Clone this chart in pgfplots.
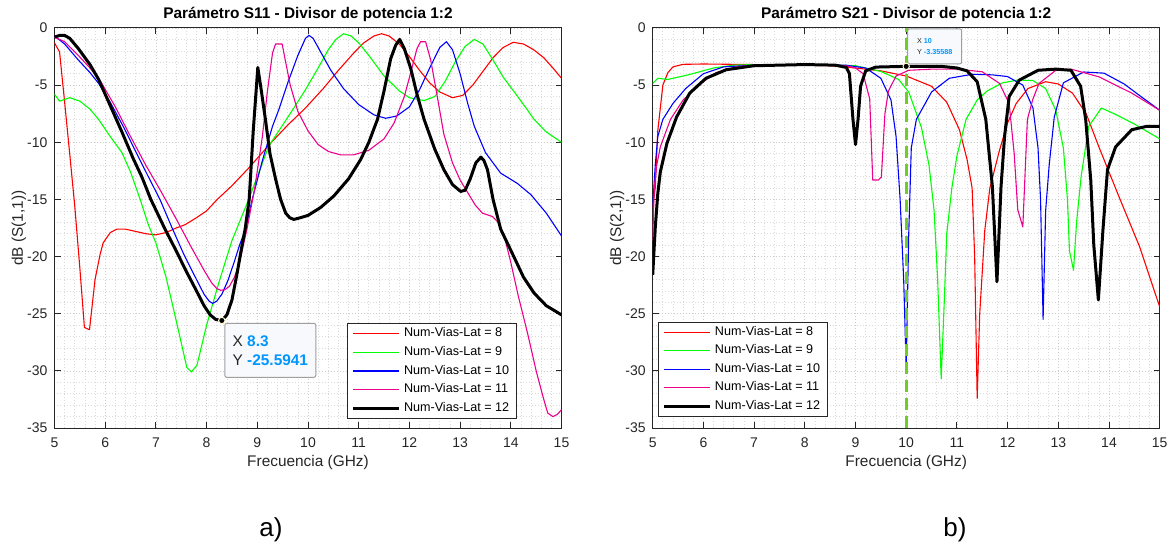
\documentclass[border=0pt]{standalone}
\usepackage{pgfplots}
\pgfplotsset{compat=1.18}
\usepackage{fontspec}
\setmainfont{Liberation Sans}
\definecolor{tipblue}{RGB}{0,150,255}
\definecolor{dashgreen}{RGB}{110,205,40}
\definecolor{axgray}{RGB}{38,38,38}
\definecolor{tipfill}{RGB}{248,249,253}
\definecolor{tipedge}{RGB}{255,250,215}

\pgfplotsset{
  every axis title shift=0pt,
  mstyle/.style={
    scale only axis, width=253.5pt, height=200pt,
    xmin=5, xmax=15, ymin=-35, ymax=0,
    xtick={5,6,...,15}, ytick={-35,-30,...,0},
    minor x tick num=4, minor y tick num=4,
    grid=both,
    major grid style={gray!40, line width=0.35pt, dash pattern=on 0.5pt off 1pt},
    minor grid style={gray!28, line width=0.35pt, dash pattern=on 0.5pt off 1pt},
    tick align=inside, major tick length=3pt, minor tick length=0pt,
    xtick pos=both, ytick pos=both,
    axis line style={axgray, line width=0.5pt},
    every tick/.style={axgray, line width=0.5pt},
    /pgf/number format/assume math mode=true,
    tick label style={font=\fontsize{7}{8}\selectfont, text=axgray},
    xticklabel style={yshift=-1.5pt},
    label style={font=\fontsize{7.7}{9}\selectfont, text=axgray},
    xlabel style={at={(axis description cs:0.5,-0.0868)}, anchor=center},
    ylabel style={at={(axis description cs:-0.070,0.5)}, anchor=center},
    title style={font=\bfseries\fontsize{7.7}{9}\selectfont, at={(axis description cs:0.5,1.0345)}, anchor=center},
    legend cell align=left,
    legend style={font=\fontsize{6.3}{7.5}\selectfont, draw=axgray, line width=0.5pt, fill=white,
      inner xsep=2pt, inner ysep=0.5pt, nodes={inner sep=1.6pt, text depth=0.15em}},
    legend image code/.code={\draw[#1] (0pt,0pt) -- (23pt,0pt);},
    every axis plot/.append style={line join=round},
  },
  c8/.style={red, line width=0.55pt},
  c9/.style={green, line width=0.55pt},
  c10/.style={blue, line width=0.55pt},
  c11/.style={magenta, line width=0.55pt},
  c12/.style={black, line width=1.5pt},
}

\begin{document}
\begin{tikzpicture}
\fill[white, use as bounding box] (0,0) rectangle (585.5pt,273pt);

% ---------- a) S11 ----------
\begin{axis}[mstyle, at={(27.25pt,59pt)}, anchor=south west,
  title={Parámetro S11 - Divisor de potencia 1:2},
  xlabel={Frecuencia (GHz)}, ylabel={dB (S(1,1))},
  legend style={at={(axis description cs:0.912,0.023)}, anchor=south east}]
\addplot[c8] coordinates {(5,-1.3)(5.1,-2.1)(5.2,-6.5)(5.3,-11)(5.4,-15.6)(5.5,-21)(5.59,-26.2)(5.69,-26.4)(5.75,-24)(5.8,-22)(5.9,-19.8)(5.96,-18.8)(6.1,-17.9)(6.23,-17.6)(6.4,-17.6)(6.6,-17.8)(6.8,-18.0)(6.99,-18.1)(7.2,-17.9)(7.4,-17.5)(7.58,-17.2)(7.8,-16.6)(8.0,-16)(8.21,-15)(8.5,-13.8)(8.8,-12.4)(9.0,-11.4)(9.3,-9.9)(9.6,-8.5)(9.95,-7)(10.3,-5.3)(10.6,-3.7)(10.9,-2.2)(11.1,-1.3)(11.3,-0.7)(11.45,-0.5)(11.6,-0.7)(11.8,-1.4)(12.0,-2.5)(12.2,-3.7)(12.4,-4.8)(12.6,-5.6)(12.85,-6.1)(13.05,-5.9)(13.25,-5)(13.45,-3.8)(13.65,-2.6)(13.85,-1.7)(14.05,-1.25)(14.25,-1.4)(14.45,-1.9)(14.65,-2.6)(14.85,-3.6)(15,-4.4)};
\addplot[c9] coordinates {(5,-5.8)(5.1,-6.4)(5.3,-6.1)(5.5,-6.4)(5.7,-7.1)(5.87,-8)(6.1,-9.5)(6.33,-10.9)(6.5,-12.6)(6.69,-15)(6.85,-17.2)(7.0,-18.8)(7.2,-21.8)(7.4,-25.6)(7.61,-29.7)(7.7,-30.1)(7.81,-29.5)(8.0,-26)(8.24,-22.3)(8.5,-18.6)(8.83,-15)(9.0,-13)(9.23,-10.3)(9.5,-8.5)(9.75,-6.8)(9.95,-5.4)(10.2,-3.5)(10.4,-1.9)(10.55,-1)(10.7,-0.5)(10.85,-0.7)(11.0,-1.3)(11.2,-2.4)(11.5,-4.2)(11.8,-5.5)(12.0,-6.1)(12.29,-6.35)(12.5,-6)(12.7,-4.7)(12.9,-3)(13.1,-1.6)(13.28,-1)(13.45,-1.4)(13.65,-2.8)(13.85,-4.3)(14.07,-5.6)(14.3,-7)(14.46,-8)(14.7,-9.1)(15,-10)};
\addplot[c10] coordinates {(5,-0.7)(5.2,-1.4)(5.47,-2.8)(5.7,-3.9)(5.87,-4.85)(6.1,-6.5)(6.39,-8.9)(6.6,-10.8)(6.85,-13)(7.08,-15)(7.32,-17.5)(7.55,-19.8)(7.8,-22)(7.95,-23.3)(8.05,-23.9)(8.12,-24.1)(8.2,-23.9)(8.3,-23.3)(8.42,-22.1)(8.55,-20.4)(8.65,-19)(8.76,-17.7)(8.9,-15)(9.1,-11.6)(9.3,-8.6)(9.42,-7.2)(9.6,-4.8)(9.8,-2.4)(9.95,-0.9)(10.02,-0.65)(10.1,-0.9)(10.25,-2.1)(10.45,-3.7)(10.7,-5.3)(11.0,-6.7)(11.3,-7.6)(11.53,-7.9)(11.75,-7.7)(12.0,-6.9)(12.2,-5.4)(12.4,-3.5)(12.6,-1.7)(12.73,-1.2)(12.85,-1.9)(13.0,-4)(13.15,-6.6)(13.28,-8.6)(13.5,-10.9)(13.8,-12.7)(14.13,-13.6)(14.4,-14.6)(14.7,-16.2)(15,-18.2)};
\addplot[c11] coordinates {(5,-0.8)(5.2,-1.2)(5.47,-2.4)(5.7,-3.5)(5.9,-4.6)(6.2,-6.9)(6.5,-9.5)(6.8,-12)(7.1,-14.3)(7.4,-16.7)(7.7,-19.2)(7.95,-21.2)(8.1,-22.3)(8.2,-22.8)(8.28,-22.95)(8.36,-22.9)(8.45,-22.6)(8.55,-21.8)(8.65,-20.5)(8.8,-17.5)(8.95,-14)(9.1,-9.5)(9.2,-5.5)(9.3,-2.2)(9.36,-1.4)(9.49,-1.4)(9.56,-3)(9.65,-5)(9.8,-7.3)(10.0,-9)(10.2,-10.2)(10.4,-10.8)(10.64,-11.1)(10.9,-11.1)(11.2,-10.7)(11.5,-9.7)(11.7,-8.3)(11.9,-6)(12.05,-3.5)(12.15,-1.8)(12.22,-1.2)(12.32,-1.2)(12.42,-2.8)(12.55,-6)(12.68,-9.3)(12.85,-11.8)(13.0,-13.3)(13.15,-14.4)(13.3,-15.5)(13.44,-16.2)(13.64,-16.5)(13.75,-17)(13.87,-18.2)(14.0,-20.5)(14.15,-23.5)(14.33,-26.7)(14.5,-30)(14.65,-32.5)(14.73,-33.7)(14.83,-34)(14.92,-33.8)(15,-33.4)};
\addplot[c12] coordinates {(5,-0.8)(5.1,-0.65)(5.2,-0.65)(5.3,-0.9)(5.47,-1.8)(5.7,-3.2)(5.87,-4.5)(6.1,-6.8)(6.33,-9.1)(6.55,-11.4)(6.72,-13)(6.9,-15)(7.18,-17.6)(7.4,-19.5)(7.6,-21.3)(7.8,-23)(7.95,-24.3)(8.07,-25.1)(8.18,-25.5)(8.3,-25.6)(8.4,-25.1)(8.5,-23.8)(8.6,-21.5)(8.7,-19)(8.76,-17.6)(8.84,-15)(8.92,-9)(9.01,-3.45)(9.08,-5.5)(9.16,-8)(9.25,-11)(9.36,-13.2)(9.46,-15)(9.56,-16.2)(9.64,-16.6)(9.72,-16.75)(9.85,-16.6)(10.0,-16.4)(10.25,-15.7)(10.51,-14.7)(10.8,-13.2)(11.04,-11.5)(11.2,-10)(11.37,-8)(11.5,-5.5)(11.63,-2.7)(11.73,-1.5)(11.81,-1.0)(11.9,-1.8)(12.03,-3.6)(12.15,-5.8)(12.29,-8)(12.5,-10.6)(12.68,-12.4)(12.85,-13.7)(13.01,-14.3)(13.1,-14.2)(13.2,-13.2)(13.31,-11.8)(13.41,-11.3)(13.47,-11.6)(13.54,-12.4)(13.65,-15)(13.8,-17.6)(14.07,-20.1)(14.25,-21.8)(14.46,-23.2)(14.7,-24.3)(15,-25.1)};
\legend{Num-Vias-Lat = 8, Num-Vias-Lat = 9, Num-Vias-Lat = 10, Num-Vias-Lat = 11, Num-Vias-Lat = 12}
\addplot[forget plot, only marks, mark=*, mark size=1.6pt, mark options={fill=black, draw=tipedge, line width=0.5pt}] coordinates {(8.3,-25.5941)};
\node[draw=gray!75, fill=tipfill, rounded corners=1pt, line width=0.5pt, anchor=north west,
  minimum width=45.5pt, minimum height=27pt, align=left, inner xsep=3.5pt,
  font=\fontsize{7.7}{9.5}\selectfont] at (axis cs:8.35,-25.8)
  {{\color{axgray}X} {\color{tipblue}\bfseries 8.3}\\{\color{axgray}Y} {\color{tipblue}\bfseries -25.5941}};
\end{axis}

% ---------- b) S21 ----------
\begin{axis}[mstyle, at={(326.35pt,59pt)}, anchor=south west,
  title={Parámetro S21 - Divisor de potencia 1:2},
  xlabel={Frecuencia (GHz)}, ylabel={dB (S(2,1))},
  legend style={at={(axis description cs:0.011,0.027)}, anchor=south west}]
\addplot[c8] coordinates {(5,-15.7)(5.05,-14)(5.1,-9)(5.2,-5)(5.3,-3.9)(5.4,-3.4)(5.6,-3.18)(6,-3.15)(7,-3.2)(8,-3.25)(8.5,-3.3)(9,-3.5)(9.5,-3.75)(10,-4.2)(10.5,-5.1)(10.8,-6.5)(11.05,-8.9)(11.2,-11.5)(11.3,-14)(11.35,-20)(11.4,-32.4)(11.45,-25)(11.55,-17.7)(11.65,-14)(11.84,-10.7)(12.0,-8.3)(12.17,-6.6)(12.4,-5.3)(12.75,-4.7)(13.0,-4.9)(13.28,-5.7)(13.55,-7.5)(13.8,-10.4)(14.2,-14.8)(14.6,-19.1)(15,-24.4)};
\addplot[c9] coordinates {(5,-4.85)(5.1,-4.4)(5.3,-4.5)(5.7,-4.1)(6.2,-3.5)(6.6,-3.25)(7,-3.2)(8,-3.2)(9,-3.3)(9.5,-3.8)(9.85,-4.5)(10.05,-5.6)(10.3,-8.7)(10.45,-12)(10.55,-16)(10.62,-22)(10.69,-30.7)(10.75,-24)(10.8,-18)(10.9,-14)(11.0,-11.2)(11.18,-8)(11.4,-6.3)(11.6,-5.5)(11.9,-4.8)(12.2,-4.55)(12.5,-4.6)(12.75,-5.3)(12.95,-7.2)(13.1,-10.5)(13.18,-15)(13.22,-19.5)(13.3,-21.2)(13.36,-17)(13.45,-13)(13.6,-8.6)(13.85,-7)(14.1,-7.5)(14.5,-8.4)(15,-9.7)};
\addplot[c10] coordinates {(5,-15.6)(5.05,-12)(5.1,-9.5)(5.2,-8)(5.4,-6.6)(5.65,-5.3)(6,-4.0)(6.4,-3.4)(7,-3.25)(8,-3.2)(8.8,-3.25)(9.2,-3.5)(9.5,-4.4)(9.7,-6.3)(9.8,-9.5)(9.88,-15)(9.95,-22)(10.0,-29.7)(10.05,-18)(10.1,-10.5)(10.2,-8)(10.5,-5.6)(10.85,-4.4)(11.3,-4.05)(11.7,-4.1)(12.0,-4.25)(12.3,-5)(12.5,-7)(12.6,-10.5)(12.65,-15)(12.7,-25.5)(12.75,-16)(12.82,-12)(12.92,-7.8)(13.1,-4.8)(13.5,-3.85)(13.9,-3.95)(14.3,-4.9)(14.6,-5.9)(15,-7.2)};
\addplot[c11] coordinates {(5,-18.6)(5.03,-14)(5.08,-12)(5.15,-10.4)(5.35,-8)(5.6,-6.3)(5.95,-4.85)(6.25,-3.9)(6.65,-3.4)(7,-3.25)(8,-3.2)(8.8,-3.3)(9.0,-3.5)(9.15,-4)(9.28,-6.2)(9.34,-13.3)(9.45,-13.3)(9.51,-13.05)(9.58,-7.5)(9.65,-5.5)(9.8,-4.2)(10.05,-3.7)(10.5,-3.6)(11,-3.6)(11.5,-3.83)(11.84,-4.85)(12.03,-6.6)(12.13,-11)(12.2,-15.9)(12.3,-17.4)(12.39,-8)(12.5,-6.2)(12.62,-4.85)(12.95,-3.7)(13.25,-3.6)(13.8,-4.27)(14.45,-5.7)(15,-7.2)};
\addplot[c12] coordinates {(5,-21.6)(5.05,-17.5)(5.1,-14.5)(5.15,-12.6)(5.28,-10.1)(5.47,-7.8)(5.73,-5.7)(6.05,-4.4)(6.45,-3.65)(7,-3.3)(8,-3.2)(8.6,-3.25)(8.82,-3.45)(8.88,-4)(8.95,-8)(9.0,-10.2)(9.05,-8)(9.1,-5.1)(9.2,-3.75)(9.4,-3.42)(10,-3.356)(10.7,-3.36)(11.0,-3.5)(11.2,-3.75)(11.4,-4.7)(11.57,-8)(11.7,-13.9)(11.79,-22.2)(11.87,-13.9)(11.94,-9.5)(12.03,-6)(12.23,-4.56)(12.6,-3.7)(12.95,-3.6)(13.25,-3.7)(13.44,-5.1)(13.54,-8)(13.64,-13.3)(13.7,-19)(13.79,-23.8)(13.88,-17.7)(13.97,-12.4)(14.13,-10.4)(14.45,-8.9)(14.75,-8.6)(15,-8.6)};
\legend{Num-Vias-Lat = 8, Num-Vias-Lat = 9, Num-Vias-Lat = 10, Num-Vias-Lat = 11, Num-Vias-Lat = 12}
\addplot[forget plot, dashgreen, line width=1.6pt, dash pattern=on 6pt off 3pt] coordinates {(10,-35)(10,0)};
\addplot[forget plot, only marks, mark=*, mark size=1.6pt, mark options={fill=black, draw=tipedge, line width=0.5pt}] coordinates {(10,-3.35588)};
\node[draw=gray!75, fill=tipfill, rounded corners=1pt, line width=0.5pt, anchor=north west,
  minimum width=27pt, minimum height=17.5pt, align=left, inner xsep=4pt,
  font=\fontsize{3.6}{5.3}\selectfont] at (axis cs:10.02,-0.03)
  {{\color{axgray}X} {\color{tipblue}\bfseries 10}\\{\color{axgray}Y} {\color{tipblue}\bfseries -3.35588}};
\end{axis}

\node[font=\fontsize{13}{15}\selectfont, text=black] at (135.5pt,8pt) {a)};
\node[font=\fontsize{13}{15}\selectfont, text=black] at (477.5pt,8pt) {b)};
\end{tikzpicture}
\end{document}
